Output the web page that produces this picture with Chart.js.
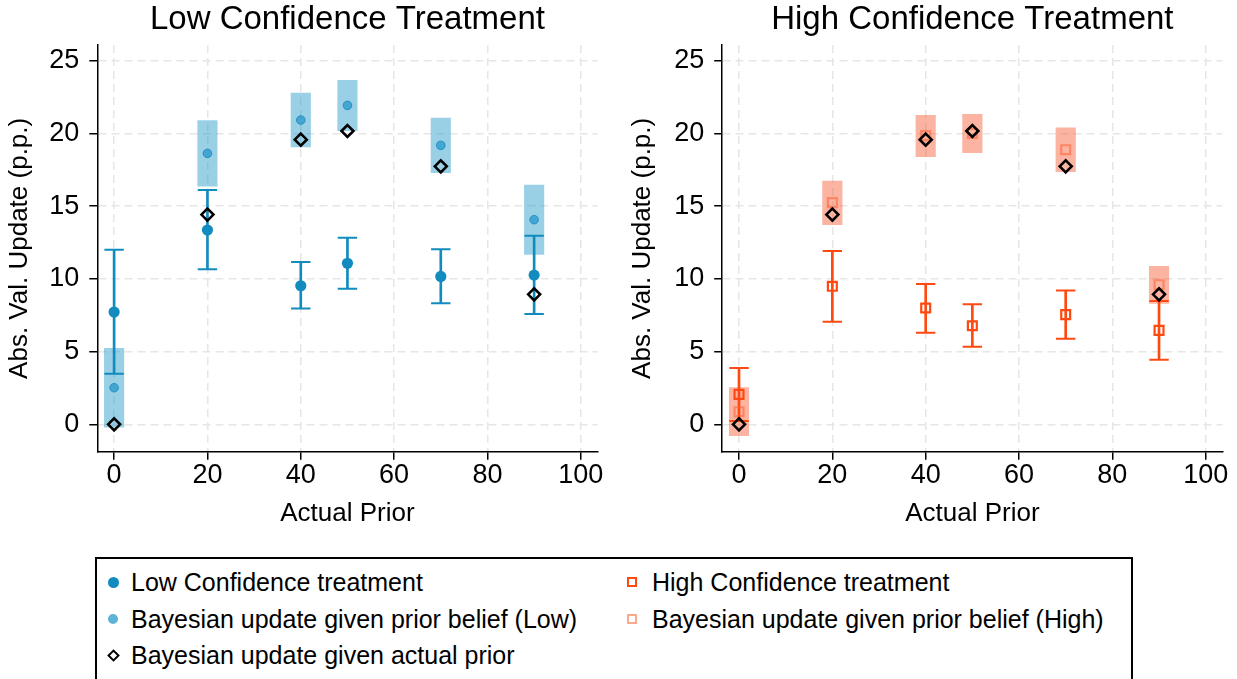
<!DOCTYPE html>
<html>
<head>
<meta charset="utf-8">
<script src="https://cdn.jsdelivr.net/npm/chart.js@4.4.1/dist/chart.umd.min.js"></script>
<style>
  html, body { margin:0; padding:0; background:#fff; }
  body { width:1237px; height:679px; overflow:hidden; position:relative;
         font-family:'Liberation Sans', Arial, Helvetica, sans-serif; color:#000; }
  #cL { position:absolute; left:0; top:0; }
  #cR { position:absolute; left:618px; top:0; }
  #legend { position:absolute; left:95px; top:557px; width:1038px; height:150px;
            border:2px solid #000; box-sizing:border-box; }
  .item { position:absolute; font-size:25px; line-height:30px; white-space:nowrap; }
  .sym { position:absolute; box-sizing:border-box; }
</style>
</head>
<body>
<canvas id="cL" width="618" height="545"></canvas>
<canvas id="cR" width="619" height="545"></canvas>
<div id="legend"></div>
<script>
// ---------------- data ----------------
const priors      = [0, 20, 40, 50, 70, 90];
const xTicks      = [0, 20, 40, 60, 80, 100];
const yTicks      = [0, 5, 10, 15, 20, 25];

// Bayesian update given the actual prior (same in both panels)
const actualBayes = [0, 14.42, 19.57, 20.17, 17.74, 8.94];

// Low confidence treatment
const lowMean     = [7.72, 13.36, 9.53, 11.07, 10.17, 10.26];
const lowCiLo     = [3.48, 10.66, 7.97, 9.33, 8.32, 7.58];
const lowCiHi     = [12.00, 16.11, 11.16, 12.83, 12.03, 12.97];
const lowBayes    = [2.52, 18.63, 20.92, 21.93, 19.18, 14.07];
const lowBayesLo  = [-0.20, 16.38, 19.07, 20.19, 17.30, 11.69];
const lowBayesHi  = [5.22, 20.88, 22.78, 23.65, 21.06, 16.45];

// High confidence treatment
const highMean    = [2.06, 9.49, 8.00, 6.78, 7.54, 6.46];
const highCiLo    = [0.23, 7.06, 6.30, 5.34, 5.89, 4.44];
const highCiHi    = [3.87, 11.92, 9.65, 8.25, 9.21, 8.48];
const highBayes   = [0.87, 15.24, 19.85, 20.00, 18.88, 9.60];
const highBayesLo = [-0.78, 13.73, 18.40, 18.67, 17.37, 8.32];
const highBayesHi = [2.52, 16.73, 21.24, 21.31, 20.39, 10.86];

const titles      = ['Low Confidence Treatment', 'High Confidence Treatment'];
const xTitle      = 'Actual Prior';
const yTitle      = 'Abs. Val. Update (p.p.)';
const legendLabels = ['Low Confidence treatment', 'Bayesian update given prior belief (Low)',
                      'Bayesian update given actual prior', 'High Confidence treatment',
                      'Bayesian update given prior belief (High)'];

// ---------------- styling ----------------
const FONT = "'Liberation Sans', Arial, Helvetica, sans-serif";
Chart.defaults.font.family = FONT;
Chart.defaults.color = '#000';

const COL = {
  lowDark:  '#128bbf',
  lowLight: 'rgba(30,150,200,0.70)',
  lowLightEdge: 'rgba(20,135,190,0.80)',
  lowBox:   'rgba(30,150,200,0.45)',
  highDark: '#fe4a11',
  highLight:'rgba(255,95,50,0.55)',
  highBox:  'rgba(248,80,40,0.43)',
  diamond:  '#000'
};

function pts(ys) { return priors.map((x, i) => ({ x: x, y: ys[i] })); }
function ranges(lo, hi) { return priors.map((x, i) => ({ x: x, y: [lo[i], hi[i]] })); }
function caps(lo, hi) { return priors.flatMap((x, i) => [{ x: x, y: lo[i] }, { x: x, y: hi[i] }]); }

function panelDatasets(p) {
  const isCircle = p.style === 'circle';
  return [
    { type:'bar', data: ranges(p.bLo, p.bHi), backgroundColor: p.box, borderWidth:0,
      barThickness: 19.5, grouped:false, order: 6 },
    { type:'bar', data: ranges(p.ciLo, p.ciHi), backgroundColor: p.dark, borderWidth:0,
      barThickness: 2, grouped:false, order: 5 },
    { type:'scatter', data: caps(p.ciLo, p.ciHi), pointStyle:'line', pointRadius: 9.7,
      borderColor: p.dark, pointBorderColor: p.dark, pointBorderWidth: 2, order: 4 },
    { type:'scatter', data: pts(p.bayes), pointStyle: p.style,
      pointRadius: isCircle ? 4.3 : 6.3,
      pointBackgroundColor: isCircle ? p.light : 'rgba(0,0,0,0)',
      pointBorderColor: isCircle ? p.lightEdge : p.light,
      pointBorderWidth: isCircle ? 1 : 2.2, order: 3 },
    { type:'scatter', data: pts(p.mean), pointStyle: p.style,
      pointRadius: isCircle ? 5.6 : 6.3,
      pointBackgroundColor: isCircle ? p.dark : 'rgba(0,0,0,0)',
      pointBorderColor: p.dark, pointBorderWidth: isCircle ? 0 : 2.2, order: 2 },
    { type:'scatter', data: pts(actualBayes), pointStyle:'rectRot', pointRadius: 6,
      pointBackgroundColor:'rgba(0,0,0,0)', pointBorderColor: COL.diamond,
      pointBorderWidth: 2.6, order: 1 }
  ];
}

function makeChart(id, title, datasets, yWidth, rightPad, yTitlePad) {
  const axisCommon = {
    type: 'linear',
    offset: false,
    grid: { color:'#e6e6e6', lineWidth:1.5, offset:false, drawTicks:true,
            tickColor:'#000', tickLength:8, tickWidth:1.5, tickBorderDash:[] },
    border: { display:true, color:'#000', width:1.5, dash:[8,5] },
    ticks: { font:{ size:27, lineHeight:1.2 }, color:'#000' }
  };
  return new Chart(document.getElementById(id), {
    type: 'scatter',
    data: { datasets: datasets },
    options: {
      responsive: false,
      animation: false,
      events: [],
      devicePixelRatio: 1,
      layout: { padding: { left:0, right:rightPad, top:0, bottom:0 } },
      plugins: {
        legend: { display:false },
        tooltip: { enabled:false },
        title: { display:true, text:title, fullSize:false, color:'#000',
                 font:{ size:33, weight:'normal', lineHeight:1.2 },
                 padding:{ top:0.5, bottom:4.9 } }
      },
      scales: {
        x: Object.assign({}, axisCommon, {
          min: -3.6, max: 103.6,
          afterBuildTicks: s => { s.ticks = xTicks.map(v => ({ value: v })); },
          afterFit: s => { s.height = 93.3; },
          ticks: Object.assign({}, axisCommon.ticks, { padding:0, maxRotation:0 }),
          title: { display:true, text:xTitle, font:{ size:26, lineHeight:1.2 },
                   color:'#000', padding:{ top:0, bottom:15.4 } }
        }),
        y: Object.assign({}, axisCommon, {
          min: -1.88, max: 26.08,
          afterBuildTicks: s => { s.ticks = yTicks.map(v => ({ value: v })); },
          afterFit: s => { s.width = yWidth; },
          ticks: Object.assign({}, axisCommon.ticks, { padding:10 }),
          title: { display:true, text:yTitle, font:{ size:26, lineHeight:1.2 },
                   color:'#000', padding:{ top:yTitlePad, bottom:0 } }
        })
      }
    }
  });
}

makeChart('cL', titles[0], panelDatasets({
  mean: lowMean, ciLo: lowCiLo, ciHi: lowCiHi, bayes: lowBayes, bLo: lowBayesLo, bHi: lowBayesHi,
  dark: COL.lowDark, light: COL.lowLight, lightEdge: COL.lowLightEdge, box: COL.lowBox, style: 'circle'
}), 97.3, 20.4, 4);

makeChart('cR', titles[1], panelDatasets({
  mean: highMean, ciLo: highCiLo, ciHi: highCiHi, bayes: highBayes, bLo: highBayesLo, bHi: highBayesHi,
  dark: COL.highDark, light: COL.highLight, lightEdge: COL.highLight, box: COL.highBox, style: 'rect'
}), 104.2, 14.5, 9);

// ---------------- legend (HTML, real text) ----------------
(function buildLegend() {
  const lg = document.getElementById('legend');
  const ox = 95 + 2, oy = 557 + 2;          // inner origin of legend box
  const rows = [582, 619, 655];
  const col1Sym = 113, col1Txt = 131, col2Sym = 632, col2Txt = 652;
  const entries = [
    { label: legendLabels[0], sx: col1Sym, tx: col1Txt, ry: rows[0], kind: 'dot',   c: COL.lowDark },
    { label: legendLabels[1], sx: col1Sym, tx: col1Txt, ry: rows[1], kind: 'dotL',  c: '#5fb3d7' },
    { label: legendLabels[2], sx: col1Sym, tx: col1Txt, ry: rows[2], kind: 'dia',   c: '#000' },
    { label: legendLabels[3], sx: col2Sym, tx: col2Txt, ry: rows[0], kind: 'sq',    c: COL.highDark },
    { label: legendLabels[4], sx: col2Sym, tx: col2Txt, ry: rows[1], kind: 'sq',    c: '#fca88e' }
  ];
  entries.forEach(e => {
    const s = document.createElement('div');
    s.className = 'sym';
    let size;
    if (e.kind === 'dot' || e.kind === 'dotL') {
      size = e.kind === 'dot' ? 11 : 10;
      s.style.width = size + 'px'; s.style.height = size + 'px';
      s.style.borderRadius = '50%'; s.style.background = e.c;
    } else if (e.kind === 'sq') {
      size = 10;
      s.style.width = size + 'px'; s.style.height = size + 'px';
      s.style.border = '2.5px solid ' + e.c;
    } else {
      size = 9;
      s.style.width = size + 'px'; s.style.height = size + 'px';
      s.style.border = '2.5px solid ' + e.c;
      s.style.transform = 'rotate(45deg)';
    }
    s.style.left = (e.sx - size / 2 - ox) + 'px';
    s.style.top = (e.ry - size / 2 - oy) + 'px';
    lg.appendChild(s);
    const t = document.createElement('div');
    t.className = 'item';
    t.textContent = e.label;
    t.style.left = (e.tx - ox) + 'px';
    t.style.top = (e.ry - 15 - oy) + 'px';
    lg.appendChild(t);
  });
})();
</script>
</body>
</html>
